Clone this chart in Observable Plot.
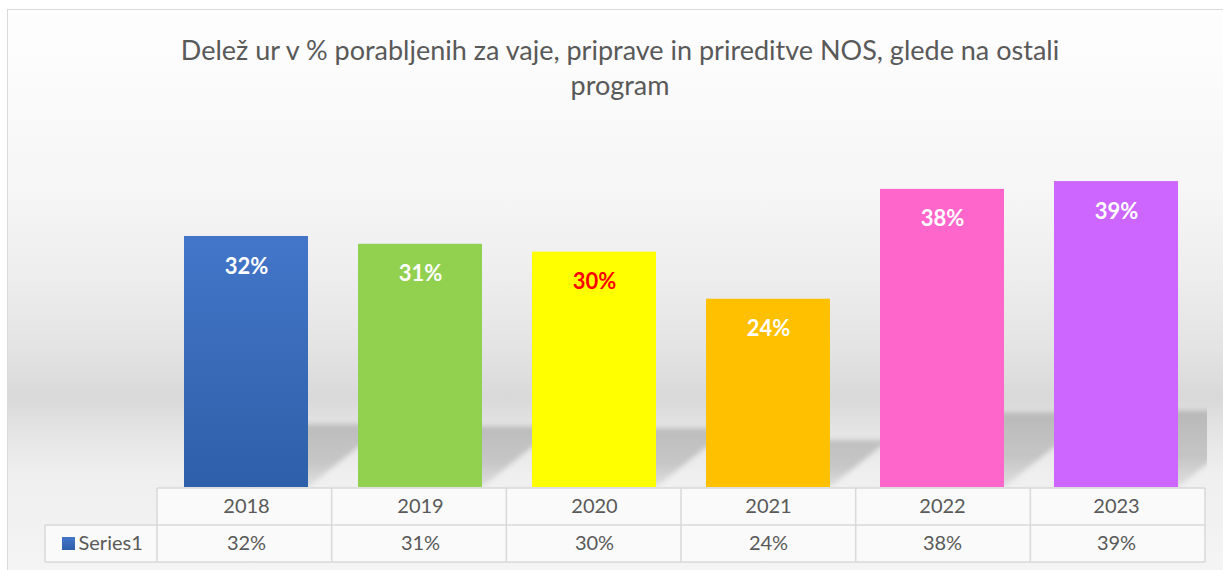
<!DOCTYPE html>
<html><head><meta charset="utf-8">
<script src="https://cdn.jsdelivr.net/npm/d3@7"></script>
<script src="https://cdn.jsdelivr.net/npm/@observablehq/plot@0.6"></script>
<style>
html,body{margin:0;padding:0;background:#fff;width:1223px;height:570px;overflow:hidden;font-family:Lato,"Open Sans",sans-serif;}
#chart{position:absolute;left:7px;top:9px;width:1240px;height:580px;border-left:1.5px solid #d9d9d9;border-top:1.5px solid #d9d9d9;
background:linear-gradient(to bottom,#fefefe 0px,#f6f6f6 180px,#eeeeee 260px,#e4e4e4 335px,#d9d9d9 388px,#e4e4e4 420px,#efefef 465px,#f4f4f4 561px);}
#title{position:absolute;left:0;top:32px;width:1240px;text-align:center;font-size:27px;line-height:35px;color:#595959;font-family:Lato,"Open Sans",sans-serif;}
#plot{position:absolute;left:0;top:0;}
</style></head>
<body>
<div id="chart"></div>
<div id="title"></div>
<div id="plot"></div>
<script>
const titleLines = ["Delež ur v % porabljenih za vaje, priprave in prireditve NOS, glede na ostali", "program"];
const years = ["2018", "2019", "2020", "2021", "2022", "2023"];
const shares = [32, 31, 30, 24, 38, 39];
const barColors = ["url(#g2018)", "#92d050", "#ffff00", "#ffc000", "#ff66cc", "#cc66ff"];
const labelColors = ["#ffffff", "#ffffff", "#ff0000", "#ffffff", "#ffffff", "#ffffff"];
const seriesName = "Series1";

const data = years.map((year, i) => ({year, share: shares[i], color: barColors[i], labelColor: labelColors[i]}));

document.getElementById("title").innerHTML = titleLines.join("<br>");

function defsMark() {
  const g = d3.create("svg:g");
  const defs = g.append("defs");
  const lg = defs.append("linearGradient").attr("id", "g2018").attr("x1", 0).attr("y1", 0).attr("x2", 0).attr("y2", 1);
  lg.append("stop").attr("offset", "0%").attr("stop-color", "#4376c9");
  lg.append("stop").attr("offset", "100%").attr("stop-color", "#2e5fa9");
  const sg = defs.append("linearGradient").attr("id", "gShadow").attr("x1", 0).attr("y1", 0).attr("x2", 0).attr("y2", 1);
  sg.append("stop").attr("offset", "0%").attr("stop-color", "#000").attr("stop-opacity", 0.17);
  sg.append("stop").attr("offset", "60%").attr("stop-color", "#000").attr("stop-opacity", 0.16);
  sg.append("stop").attr("offset", "100%").attr("stop-color", "#000").attr("stop-opacity", 0.07);
  const f = defs.append("filter").attr("id", "fBlur").attr("x", "-20%").attr("y", "-20%").attr("width", "140%").attr("height", "140%");
  f.append("feGaussianBlur").attr("stdDeviation", 2.5);
  return g.node();
}

function shadowMark(index, scales, values, dims) {
  const {width, marginRight, marginTop} = dims;
  const x = scales.x, y = scales.y;
  const bw = x.bandwidth();
  const g = d3.create("svg:g");
  g.append("clipPath").attr("id", "cShadow").append("rect")
    .attr("x", 0).attr("y", marginTop).attr("width", width - marginRight + 2).attr("height", y(0) - marginTop);
  const inner = g.append("g").attr("clip-path", "url(#cShadow)").append("g").attr("filter", "url(#fBlur)");
  for (const d of data) {
    const xl = x(d.year), xr = xl + bw;
    const yb = y(0), yt = y(d.share * 0.25);
    const s = (yb - yt) * 1.25;
    inner.append("polygon")
      .attr("points", [[xl, yb], [xr, yb], [xr + s, yt], [xl + s, yt]].map(p => p.join(",")).join(" "))
      .attr("fill", "url(#gShadow)");
  }
  return g.node();
}

function tableMark(index, scales, values, dims) {
  const {width, marginLeft, marginRight} = dims;
  const y = scales.y;
  const x0 = marginLeft, x1 = width - marginRight;
  const step = (x1 - x0) / years.length;
  const base = y(0);
  const rTop = base + 1, rMid = base + 38, rBot = base + 75;
  const legendX = x0 - 112;
  const g = d3.create("svg:g");
  g.append("rect").attr("x", x0).attr("y", rTop).attr("width", x1 - x0).attr("height", rBot - rTop).attr("fill", "#fafafa");
  g.append("rect").attr("x", legendX).attr("y", rMid).attr("width", x0 - legendX).attr("height", rBot - rMid).attr("fill", "#fafafa");
  const lines = g.append("g").attr("stroke", "#d9d9d9").attr("stroke-width", 1.5).attr("fill", "none");
  lines.append("line").attr("x1", x0).attr("x2", x1).attr("y1", rTop).attr("y2", rTop);
  lines.append("line").attr("x1", legendX).attr("x2", x1).attr("y1", rMid).attr("y2", rMid);
  lines.append("line").attr("x1", legendX).attr("x2", x1).attr("y1", rBot).attr("y2", rBot);
  lines.append("line").attr("x1", legendX).attr("x2", legendX).attr("y1", rMid).attr("y2", rBot);
  for (let i = 0; i <= years.length; i++) {
    const xx = x0 + i * step;
    lines.append("line").attr("x1", xx).attr("x2", xx).attr("y1", rTop).attr("y2", rBot);
  }
  g.append("rect").attr("x", legendX + 17).attr("y", rMid + 12).attr("width", 13).attr("height", 13).attr("fill", "url(#g2018)");
  return g.node();
}

const chart = Plot.plot({
  width: 1223,
  height: 570,
  marginLeft: 157,
  marginRight: 18,
  marginTop: 134,
  marginBottom: 83,
  style: {background: "transparent", fontFamily: "Lato, 'Open Sans', sans-serif"},
  x: {domain: years, paddingInner: 0.285, paddingOuter: 0.1425, axis: null},
  y: {domain: [0, 45], axis: null},
  color: {type: "identity"},
  marks: [
    defsMark,
    shadowMark,
    Plot.barY(data, {x: "year", y: "share", fill: "color"}),
    Plot.text(data, {x: "year", y: "share", text: d => d.share + "%", dy: 30, fill: "labelColor", fontWeight: "bold", fontSize: 22}),
    tableMark,
    Plot.text(data, {x: "year", y: () => 0, text: "year", dy: 19, fill: "#595959", fontSize: 20}),
    Plot.text(data, {x: "year", y: () => 0, text: d => d.share + "%", dy: 56, fill: "#595959", fontSize: 20}),
    Plot.text([seriesName], {frameAnchor: "bottom-left", lineAnchor: "middle", text: d => d, dx: -79, dy: 56, textAnchor: "start", fill: "#595959", fontSize: 20})
  ]
});
document.getElementById("plot").appendChild(chart);
</script>
</body></html>
